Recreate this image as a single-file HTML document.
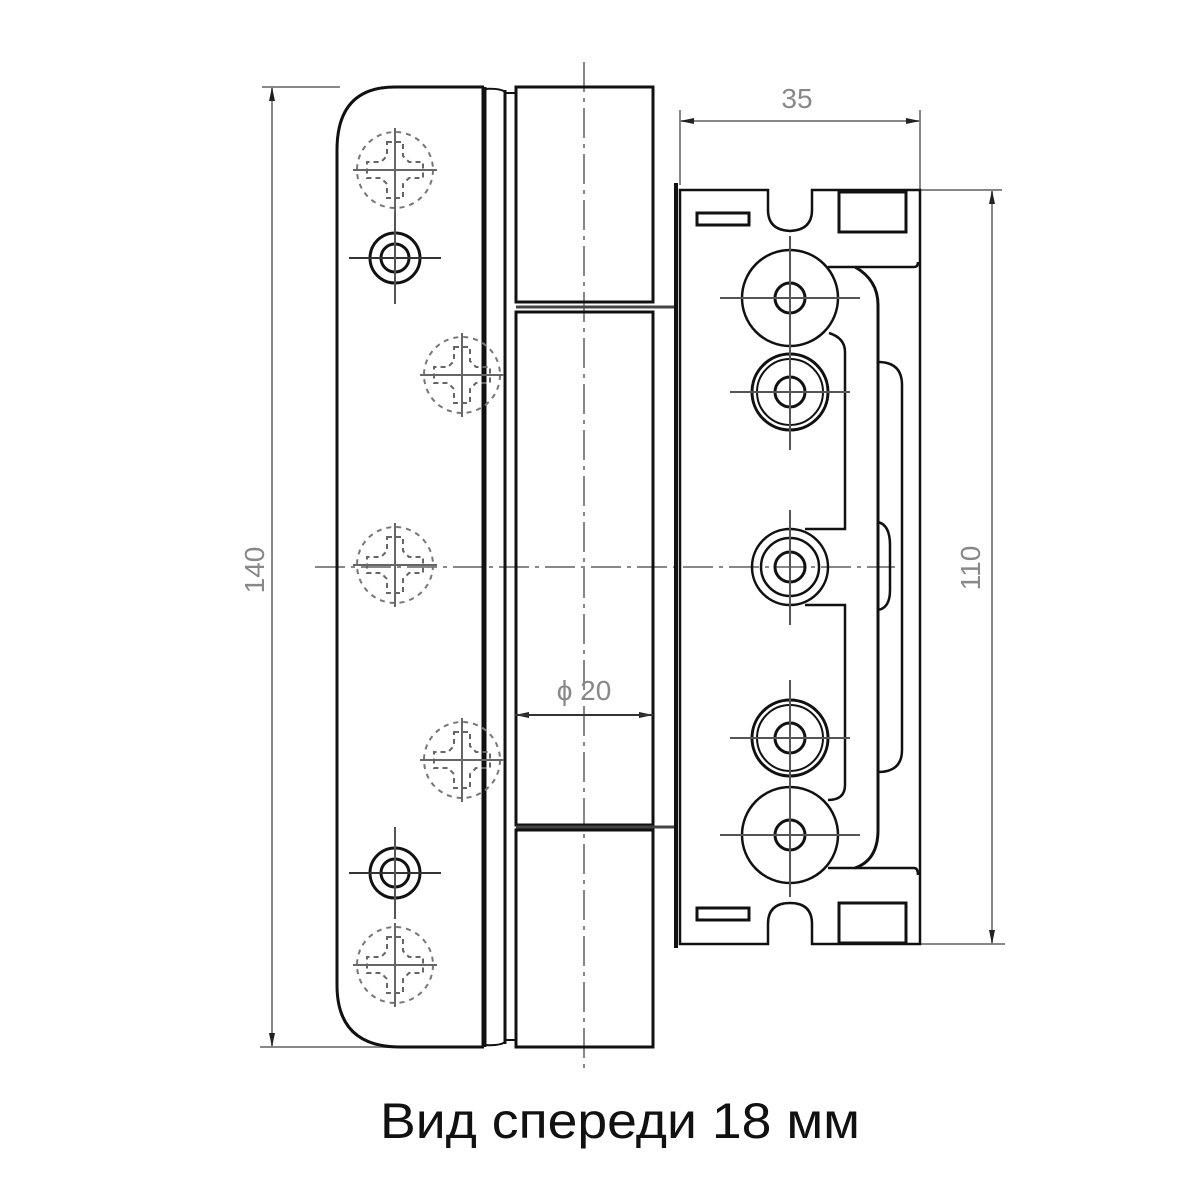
<!DOCTYPE html>
<html><head><meta charset="utf-8"><style>
html,body{margin:0;padding:0;background:#fff;}
svg{display:block;}
</style></head><body>
<svg width="1200" height="1200" viewBox="0 0 1200 1200" xmlns="http://www.w3.org/2000/svg">
<defs>
<g id="star" fill="none">
  <circle r="38" stroke="#777" stroke-width="2" stroke-dasharray="5,5"/>
  <path d="M-8,-28 H8 V-14 L14,-8 H28 V8 H14 L8,14 V28 H-8 V14 L-14,8 H-28 V-8 H-14 L-8,-14 Z" stroke="#666" stroke-width="2" stroke-dasharray="5,4"/>
  <line x1="-42" y1="0" x2="42" y2="0" stroke="#666" stroke-width="2"/>
  <line x1="0" y1="-42" x2="0" y2="42" stroke="#666" stroke-width="2"/>
</g>
<g id="small" fill="none">
  <circle r="25" stroke="#111" stroke-width="3"/>
  <circle r="14" stroke="#111" stroke-width="3"/>
  <line x1="-46" y1="0" x2="46" y2="0" stroke="#333" stroke-width="2"/>
  <line x1="0" y1="-46" x2="0" y2="46" stroke="#555" stroke-width="2"/>
</g>
<g id="big" fill="none">
  <circle r="48" stroke="#111" stroke-width="2.5"/>
  <circle r="15" stroke="#111" stroke-width="3"/>
  <line x1="-70" y1="0" x2="70" y2="0" stroke="#555" stroke-width="2"/>
  <line x1="0" y1="-62" x2="0" y2="62" stroke="#555" stroke-width="2"/>
</g>
<g id="ring" fill="none">
  <circle r="38" stroke="#111" stroke-width="3"/>
  <circle r="33" stroke="#111" stroke-width="2"/>
  <circle r="15" stroke="#111" stroke-width="3"/>
  <line x1="-60" y1="0" x2="60" y2="0" stroke="#555" stroke-width="2"/>
  <line x1="0" y1="-58" x2="0" y2="58" stroke="#555" stroke-width="2"/>
</g>
</defs>

<g stroke="#888" stroke-width="2" fill="none">
  <line x1="262" y1="87" x2="340" y2="87"/>
  <line x1="260" y1="1047" x2="400" y2="1047"/>
  <line x1="272" y1="87" x2="272" y2="1047"/>
  <line x1="680" y1="110" x2="680" y2="185"/>
  <line x1="920" y1="110" x2="920" y2="190"/>
  <line x1="680" y1="121" x2="920" y2="121"/>
  <line x1="920" y1="190" x2="1002" y2="190"/>
  <line x1="920" y1="944" x2="1005" y2="944"/>
  <line x1="992" y1="190" x2="992" y2="944"/>
</g>
<g fill="#222">
  <path d="M272,87 l-3,14 h6z"/><path d="M272,1047 l-3,-14 h6z"/>
  <path d="M680,121 l14,-3 v6z"/><path d="M920,121 l-14,-3 v6z"/>
  <path d="M992,190 l-3,14 h6z"/><path d="M992,944 l-3,-14 h6z"/>
  <path d="M515,715 l14,-3 v6z"/><path d="M653,715 l-14,-3 v6z"/>
</g>
<g font-family="Liberation Sans, sans-serif" font-size="28" fill="#888">
  <text x="797" y="108" text-anchor="middle">35</text>
  <text transform="translate(264,570) rotate(-90)" text-anchor="middle">140</text>
  <text transform="translate(980,568) rotate(-90)" text-anchor="middle">110</text>
  <text x="584" y="700" text-anchor="middle">ϕ 20</text>
</g>

<g stroke="#888" stroke-width="2" fill="none">
  <line x1="584" y1="62" x2="584" y2="1070" stroke-dasharray="30,6,4,6"/>
  <line x1="315" y1="567" x2="895" y2="567" stroke-dasharray="30,6,4,6"/>
</g>

<g stroke="#111" fill="none">
  <path d="M484,87 H395 Q337,87 337,150 V985 Q337,1047 400,1047 H484" stroke-width="3"/>
  <line x1="484" y1="87" x2="484" y2="1047" stroke-width="5"/>
  <line x1="505" y1="90" x2="505" y2="1044" stroke-width="3"/>
  <path d="M484,89 Q500,88 505,92" stroke-width="2"/>
  <path d="M484,1045 Q500,1046 505,1042" stroke-width="2"/>
  <rect x="516" y="87" width="137" height="215" stroke-width="3"/>
  <rect x="516" y="312" width="137" height="513" stroke-width="3"/>
  <rect x="516" y="830" width="137" height="217" stroke-width="3"/>
  <line x1="516" y1="307" x2="675" y2="307" stroke-width="3" stroke="#444"/>
  <line x1="516" y1="827" x2="675" y2="827" stroke-width="3" stroke="#444"/>
  <line x1="505" y1="93" x2="516" y2="93" stroke-width="2"/>
  <line x1="505" y1="1040" x2="516" y2="1040" stroke-width="2"/>
</g>
<line x1="515" y1="715" x2="653" y2="715" stroke="#333" stroke-width="2"/>

<use href="#star" x="395" y="170"/>
<use href="#star" x="462" y="375"/>
<use href="#star" x="395" y="565"/>
<use href="#star" x="462" y="760"/>
<use href="#star" x="395" y="965"/>
<use href="#small" x="395" y="258"/>
<use href="#small" x="395" y="873"/>

<g stroke="#111" fill="none" stroke-width="3">
  <line x1="676" y1="183" x2="676" y2="948" stroke-width="4"/>
  <path d="M680,190 H768 V210 Q768,230 790,231 Q812,230 812,210 V190 H920 V944 H812 V924 Q812,903 790,903 Q768,903 768,924 V944 H680 Z" stroke-width="2.5"/>
  <rect x="697" y="213" width="52" height="12" stroke-width="3"/>
  <rect x="697" y="908" width="52" height="12" stroke-width="3"/>
  <rect x="839" y="192" width="67" height="40" stroke-width="3"/>
  <rect x="839" y="903" width="67" height="40" stroke-width="3"/>
  <path d="M828,267 H914 Q918,267 918,262" stroke-width="2.5"/>
  <path d="M855,267 Q878,280 878,305 V830 Q878,860 855,868" stroke-width="3"/>
  <path d="M828,868 H914 Q918,868 918,875" stroke-width="2.5"/>
  <path d="M829,333 Q845,338 845,352 V529 H805" stroke-width="2.5"/>
  <path d="M805,605 H845 V785 Q845,800 828,800" stroke-width="2.5"/>
  <path d="M878,362 Q902,362 902,385 V750 Q902,772 878,772" stroke-width="2.5"/>
  <path d="M878,522 Q890,525 890,545 V590 Q890,608 878,610" stroke-width="2.5"/>
</g>

<use href="#big" x="790" y="298"/>
<use href="#ring" x="790" y="392"/>
<g fill="none">
  <circle cx="790" cy="567" r="38" stroke="#111" stroke-width="2.5"/>
  <circle cx="790" cy="567" r="29" stroke="#111" stroke-width="2.5"/>
  <circle cx="790" cy="567" r="15" stroke="#111" stroke-width="3"/>
  <line x1="790" y1="510" x2="790" y2="625" stroke="#555" stroke-width="2"/>
</g>
<use href="#ring" x="790" y="738"/>
<use href="#big" x="790" y="835"/>

<text x="620" y="1138" text-anchor="middle" font-family="Liberation Sans, DejaVu Sans, sans-serif" font-size="50" fill="#111" textLength="480" lengthAdjust="spacingAndGlyphs">Вид спереди 18 мм</text>
</svg>
</body></html>
